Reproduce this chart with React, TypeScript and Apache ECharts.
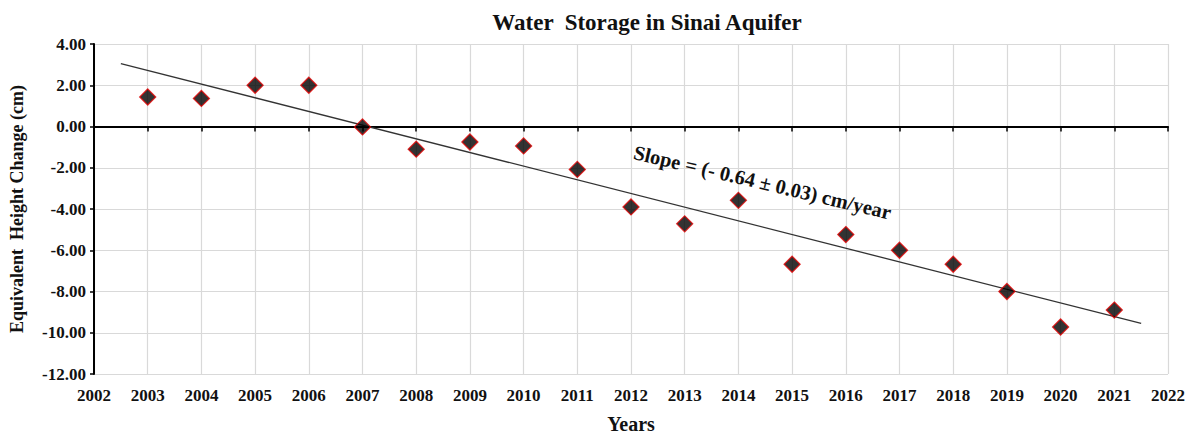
import React, { useEffect, useRef } from "react";
import * as echarts from "echarts";

const years = [2003, 2004, 2005, 2006, 2007, 2008, 2009, 2010, 2011, 2012, 2013, 2014, 2015, 2016, 2017, 2018, 2019, 2020, 2021];
const storage = [1.43, 1.36, 2.0, 2.0, -0.02, -1.1, -0.75, -0.94, -2.08, -3.9, -4.72, -3.58, -6.68, -5.24, -6.0, -6.68, -8.0, -9.72, -8.9];
const trendX = [2002.5, 2021.5];
const trendY = [3.05, -9.55];
const slopeLabel = "Slope = (- 0.64 \u00b1 0.03) cm/year";
const titleText = "Water  Storage in Sinai Aquifer";
const xName = "Years";
const yName = "Equivalent  Height Change (cm)";

const FONT = "'Liberation Serif', 'Times New Roman', serif";

export default function App() {
  const ref = useRef<HTMLDivElement>(null);
  useEffect(() => {
    if (!ref.current) return;
    const chart = echarts.init(ref.current, undefined, { renderer: "svg" });
    const pts = years.map((y, i) => [y, storage[i]]);
    const trend = trendX.map((x, i) => [x, trendY[i]]);
    chart.setOption({
      animation: false,
      backgroundColor: "#ffffff",
      title: {
        text: titleText,
        left: 642,
        textAlign: "center",
        top: 6,
        textStyle: { fontFamily: FONT, fontWeight: "bold", fontSize: 23, color: "#111" },
      },
      grid: { left: 92, right: 30, top: 44, bottom: 59, containLabel: false },
      xAxis: [
        {
          type: "value",
          min: 2002,
          max: 2022,
          interval: 1,
          position: "bottom",
          name: xName,
          nameLocation: "middle",
          nameGap: 40,
          nameTextStyle: { fontFamily: FONT, fontWeight: "bold", fontSize: 20, color: "#111" },
          axisLine: { show: false, onZero: false },
          axisTick: { show: false },
          axisLabel: { fontFamily: FONT, fontWeight: "bold", fontSize: 17, color: "#111", margin: 13, formatter: (v: number) => String(v) },
          splitLine: { show: true, lineStyle: { color: "#d9d9d9", width: 1.2 } },
        },
        {
          type: "value",
          min: 2002,
          max: 2022,
          interval: 1,
          position: "top",
          axisLine: { show: true, onZero: true, lineStyle: { color: "#000", width: 2 } },
          axisTick: { show: true, inside: true, length: 5, lineStyle: { color: "#000", width: 1.5 } },
          axisLabel: { show: false },
          splitLine: { show: false },
        },
      ],
      yAxis: {
        type: "value",
        min: -12,
        max: 4,
        interval: 2,
        name: yName,
        nameLocation: "middle",
        nameGap: 68,
        nameTextStyle: { fontFamily: FONT, fontWeight: "bold", fontSize: 18, color: "#111" },
        axisLine: { show: true, onZero: false, lineStyle: { color: "#000", width: 2 } },
        axisTick: { show: true, length: 4, lineStyle: { color: "#000", width: 1.5 } },
        axisLabel: { fontFamily: FONT, fontWeight: "bold", fontSize: 17, color: "#111", margin: 8, formatter: (v: number) => v.toFixed(2) },
        splitLine: { show: true, lineStyle: { color: "#d9d9d9", width: 1.2 } },
      },
      series: [
        {
          type: "line",
          xAxisIndex: 0,
          data: trend,
          symbol: "none",
          lineStyle: { color: "#333", width: 1.3 },
          z: 2,
        },
        {
          type: "scatter",
          xAxisIndex: 0,
          data: pts,
          symbol: "diamond",
          symbolSize: [16, 16],
          itemStyle: { color: "#000", borderColor: "#e00000", borderWidth: 1.3 },
          z: 3,
        },
      ],
      graphic: [
        {
          type: "text",
          x: 634,
          y: 152,
          rotation: -0.232,
          style: {
            text: slopeLabel,
            fontFamily: FONT,
            fontWeight: "bold",
            fontSize: 20.5,
            fill: "#111",
            textAlign: "left",
            textVerticalAlign: "middle",
          },
          z: 10,
        },
      ],
    });
    return () => chart.dispose();
  }, []);
  return <div ref={ref} style={{ position: "absolute", left: 0, top: 0, width: 1198, height: 439 }} />;
}
